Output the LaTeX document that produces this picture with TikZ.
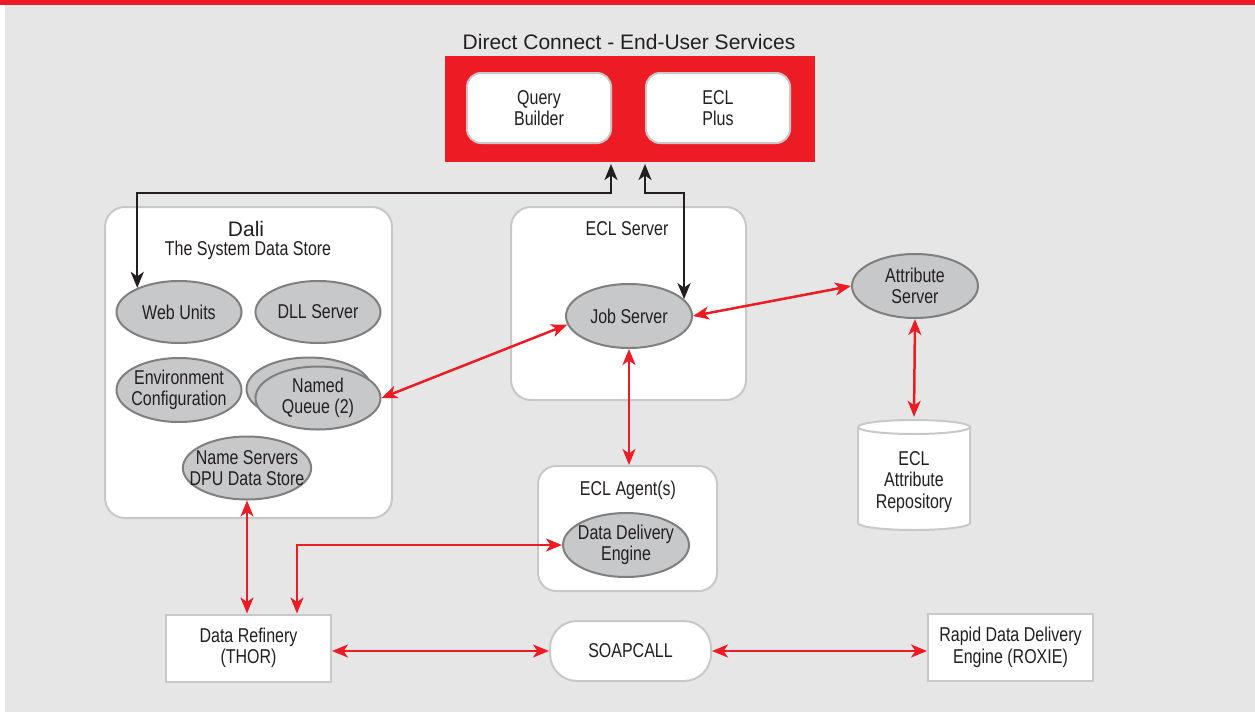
\documentclass[tikz,border=0pt]{standalone}
\usepackage{fontspec}
\setmainfont{Liberation Sans}[FakeStretch=0.8]
\newfontfamily\widefont{Liberation Sans}
\usepackage[]{xcolor}
\usetikzlibrary{arrows.meta, shapes.geometric, calc}
\definecolor{hpccred}{HTML}{ED1C24}
\definecolor{backgrey}{HTML}{E6E6E6}
\definecolor{ovalfill}{HTML}{C7C8CA}
\definecolor{ovalline}{HTML}{7F7F7F}
\definecolor{boxline}{HTML}{C8C8C8}
\definecolor{inkgrey}{HTML}{231F20}
\tikzset{
		every node/.style={text=inkgrey, font=\fontsize{20}{21.5}\selectfont, align=center},
		grey ellipse/.style={ellipse, draw=ovalline, fill=ovalfill, line width=2pt, minimum width=125, minimum height=62, inner sep=-12pt},
		white box/.style={rectangle, draw=boxline, fill=white, line width=2pt, minimum width=165, minimum height=67, inner sep=0pt},
		round panel/.style={white box, rounded corners=20pt},
		red link/.style={draw=hpccred, line width=2.5pt, <->},
		black link/.style={draw=inkgrey, line width=2.5pt, <->}
	}
\begin{document}
\begin{tikzpicture}[x=1pt, y=-1pt, >={Stealth[length=16pt,width=13pt,inset=4.5pt]}]
		\useasboundingbox (0,0) rectangle (1255,712);
		\fill[backgrey] (5,5) rectangle (1255,712);
		\fill[hpccred]  (0,0) rectangle (1255,5);

		% end-user services
		\node (title) at (629,42) {\widefont\fontsize{21}{24}\selectfont Direct Connect - End-User Services};
		\node[fill=hpccred, minimum width=370, minimum height=106, inner sep=0pt] (direct) at (630,109) {};
		\node[white box, rounded corners=14pt, minimum width=144, minimum height=70] (qb)  at (539,108) {Query\\Builder};
		\node[white box, rounded corners=14pt, minimum width=144, minimum height=70] (eclplus) at (718,108) {ECL\\Plus};

		% panels
		\node[round panel, minimum width=287, minimum height=311] (dali)   at (248.5,362.5) {};
		\node[round panel, minimum width=235, minimum height=193] (eclsrv) at (628.5,303.5) {};
		\node[round panel, rounded corners=18pt, minimum width=179, minimum height=125] (agent) at (627.5,528.5) {};
		\node (dalititle)  at (246,229) {\widefont\fontsize{21}{24}\selectfont Dali};
		\node (dalisub)    at (248,250) {The System Data Store};
		\node (eclsrvname) at (627,229) {ECL Server};
		\node (agentname)  at (628,490) {ECL Agent(s)};

		% services
		\node[grey ellipse] (webunits) at (179,312) {Web Units};
		\node[grey ellipse] (dll)      at (318,312) {DLL Server};
		\node[grey ellipse, minimum height=64] (envconf) at (179,390) {Environment\\Configuration};
		\node[grey ellipse, minimum height=63] (nqback)  at (309,389) {};
		\node[grey ellipse, minimum height=63] (nq)      at (318,398) {Named\\Queue (2)};
		\node[grey ellipse, minimum height=63] (ns)      at (247,468) {Name Servers\\DPU Data Store};
		\node[grey ellipse, minimum width=126, minimum height=64] (job)   at (629,316) {Job Server};
		\node[grey ellipse, minimum width=126, minimum height=64] (dde)   at (626,545) {Data Delivery\\Engine};
		\node[grey ellipse, minimum width=126, minimum height=64] (attr)  at (915,286) {Attribute\\Server};

		% attribute repository
		\draw[boxline, line width=2pt, fill=white] (858,427) -- (858,523) arc[start angle=180, end angle=0, x radius=56, y radius=7] -- (970,427);
		\draw[boxline, line width=2pt, fill=white] (914,427) ellipse [x radius=56, y radius=7];
		\node[minimum width=112, minimum height=112, inner sep=0pt] (repo) at (914,473) {};
		\node (reponame) at (914,482) {ECL\\Attribute\\Repository};

		% engines
		\node[white box] (thor)  at (248.5,648) {Data Refinery\\(THOR)};
		\node[white box, rounded corners=27pt, minimum width=161, minimum height=60] (soap) at (630.5,651) {SOAPCALL};
		\node[white box, minimum height=67] (roxie) at (1010.5,647.5) {Rapid Data Delivery\\Engine (ROXIE)};

		% connectors
		\coordinate (up1) at (611,164);
		\coordinate (up2) at (645,164);
		\draw[black link] (up1) -- ++(0,29) -| (webunits.150);
		\draw[black link] (up2) -- ++(0,29) -| (job.17);

		\draw[red link] (nq.east)   -- (job.188);
		\draw[red link] (job.east)  -- (attr.west);
		\draw[red link] (job.south) -- (job.south |- agent.north);
		\draw[red link] (attr.south) -- (repo.north);
		\draw[red link] (ns.south)  -- (ns.south |- thor.north);
		\draw[red link] ($(thor.north)+(48.5,0)$) |- (dde.west);
		\draw[red link] (soap.west -| thor.east) -- (soap.west);
		\draw[red link] (soap.east) -- (soap.east -| roxie.west);
	\end{tikzpicture}
\end{document}
